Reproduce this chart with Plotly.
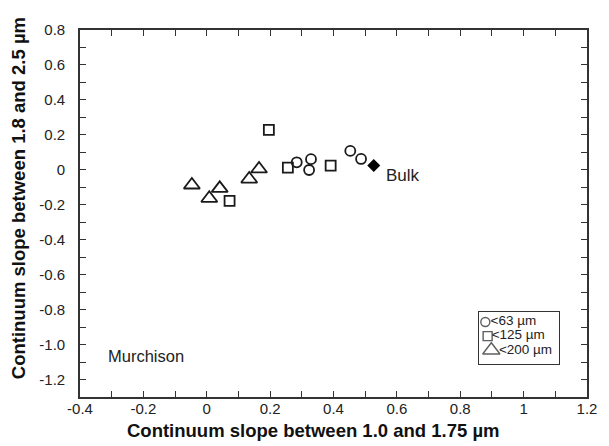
import plotly.graph_objects as go

# Continuum slopes of Murchison size fractions
x_63 = [0.284, 0.329, 0.323, 0.453, 0.487]
y_63 = [0.043, 0.061, -0.001, 0.108, 0.062]

x_125 = [0.196, 0.072, 0.256, 0.391]
y_125 = [0.228, -0.178, 0.012, 0.024]

x_200 = [-0.047, 0.008, 0.041, 0.134, 0.165]
y_200 = [-0.087, -0.163, -0.106, -0.053, 0.005]

x_bulk = [0.527]
y_bulk = [0.024]

x_ticks = [-0.4, -0.2, 0, 0.2, 0.4, 0.6, 0.8, 1.0, 1.2]
x_ticktext = ["-0.4", "-0.2", "0", "0.2", "0.4", "0.6", "0.8", "1", "1.2"]
y_ticks = [0.8, 0.6, 0.4, 0.2, 0, -0.2, -0.4, -0.6, -0.8, -1.0, -1.2]
y_ticktext = ["0.8", "0.6", "0.4", "0.2", "0", "-0.2", "-0.4", "-0.6", "-0.8", "-1.0", "-1.2"]

# Key entries, one row each: symbol followed directly by its label
key_labels = ["<63 µm", "<125 µm", "<200 µm"]
key_symbols = ["circle-open", "square-open", "triangle-up-open"]
key_sizes = [9, 9, 15]
key_rows = list(range(len(key_labels)))
key_symbol_x = [0.085, 0.114, 0.16]
key_text_x = [0.15, 0.164, 0.255]

INK = "#1a1a1a"
AXC = "#333333"
FONT = "Liberation Sans, Arial, sans-serif"

fig = go.Figure()

marker_line = dict(width=1.8, color=INK)
fig.add_trace(go.Scatter(
    x=x_63, y=y_63, mode="markers", name=key_labels[0],
    marker=dict(symbol=key_symbols[0], size=10, color=INK, line=marker_line),
))
fig.add_trace(go.Scatter(
    x=x_125, y=y_125, mode="markers", name=key_labels[1],
    marker=dict(symbol=key_symbols[1], size=10, color=INK, line=marker_line),
))
fig.add_trace(go.Scatter(
    x=x_200, y=y_200, mode="markers", name=key_labels[2],
    marker=dict(symbol=key_symbols[2], size=14, color=INK, line=marker_line),
))
fig.add_trace(go.Scatter(
    x=x_bulk, y=y_bulk, mode="markers", name="Bulk",
    marker=dict(symbol="diamond", size=10, color="#000000", line=dict(width=0)),
))

# Boxed key in the lower right corner, drawn on its own small axes
fig.add_trace(go.Scatter(
    x=key_symbol_x, y=key_rows, xaxis="x2", yaxis="y2", mode="markers",
    marker=dict(symbol=key_symbols, size=key_sizes, color=INK, line=dict(width=1.4, color=INK)),
    hoverinfo="skip",
))
fig.add_trace(go.Scatter(
    x=key_text_x, y=key_rows, xaxis="x2", yaxis="y2", mode="text",
    text=key_labels, textposition="middle right",
    textfont=dict(family=FONT, size=13.5, color="#222222"),
    hoverinfo="skip",
))

axis_common = dict(
    showline=True, linecolor=AXC, linewidth=1.6, mirror="ticks",
    ticks="inside", ticklen=6, tickwidth=1.4, tickcolor=AXC,
    showgrid=False, zeroline=False,
    tickfont=dict(family=FONT, size=15, color="#222222"),
)
minor_ticks = dict(tick0=0, dtick=0.1, ticks="inside", ticklen=6, tickwidth=1.4, tickcolor=AXC)

fig.update_layout(
    xaxis=dict(range=[-0.4, 1.2], tickmode="array", tickvals=x_ticks, ticktext=x_ticktext,
               minor=minor_ticks, ticklabelstandoff=-3, **axis_common),
    yaxis=dict(range=[-1.3, 0.8], tickmode="array", tickvals=y_ticks, ticktext=y_ticktext,
               minor=minor_ticks, ticklabelstandoff=10, **axis_common),
    xaxis2=dict(domain=[0.786, 0.944], anchor="y2", range=[0, 1], showline=True, mirror=True,
                linecolor=AXC, linewidth=1.2, showticklabels=False, ticks="",
                showgrid=False, zeroline=False, fixedrange=True),
    yaxis2=dict(domain=[0.089, 0.2316], anchor="x2", range=[3.0, -0.71], showline=True, mirror=True,
                linecolor=AXC, linewidth=1.2, showticklabels=False, ticks="",
                showgrid=False, zeroline=False, fixedrange=True),
)

fig.add_annotation(
    x=0.461, y=-0.09, xref="paper", yref="paper", showarrow=False,
    text="<b>Continuum slope between 1.0 and 1.75 µm</b>",
    font=dict(family=FONT, size=18.5, color="#111111"),
    xanchor="center", yanchor="middle",
)
fig.add_annotation(
    x=-0.122, y=0.542, xref="paper", yref="paper", showarrow=False, textangle=-90,
    text="<b>Continuum slope between 1.8 and 2.5 µm</b>",
    font=dict(family=FONT, size=18.5, color="#111111"),
    xanchor="center", yanchor="middle",
)
fig.add_annotation(
    x=-0.319, y=-1.065, xref="x", yref="y", showarrow=False, text="Murchison",
    font=dict(family=FONT, size=16.5, color="#222222"), xanchor="left", yanchor="middle",
)
fig.add_annotation(
    x=0.558, y=-0.035, xref="x", yref="y", showarrow=False, text="Bulk",
    font=dict(family=FONT, size=17, color="#222222"), xanchor="left", yanchor="middle",
)

fig.update_layout(
    width=609, height=446,
    margin=dict(l=80, r=13, t=30, b=49),
    paper_bgcolor="white", plot_bgcolor="white",
    showlegend=False,
)

fig.write_html("out.html")
